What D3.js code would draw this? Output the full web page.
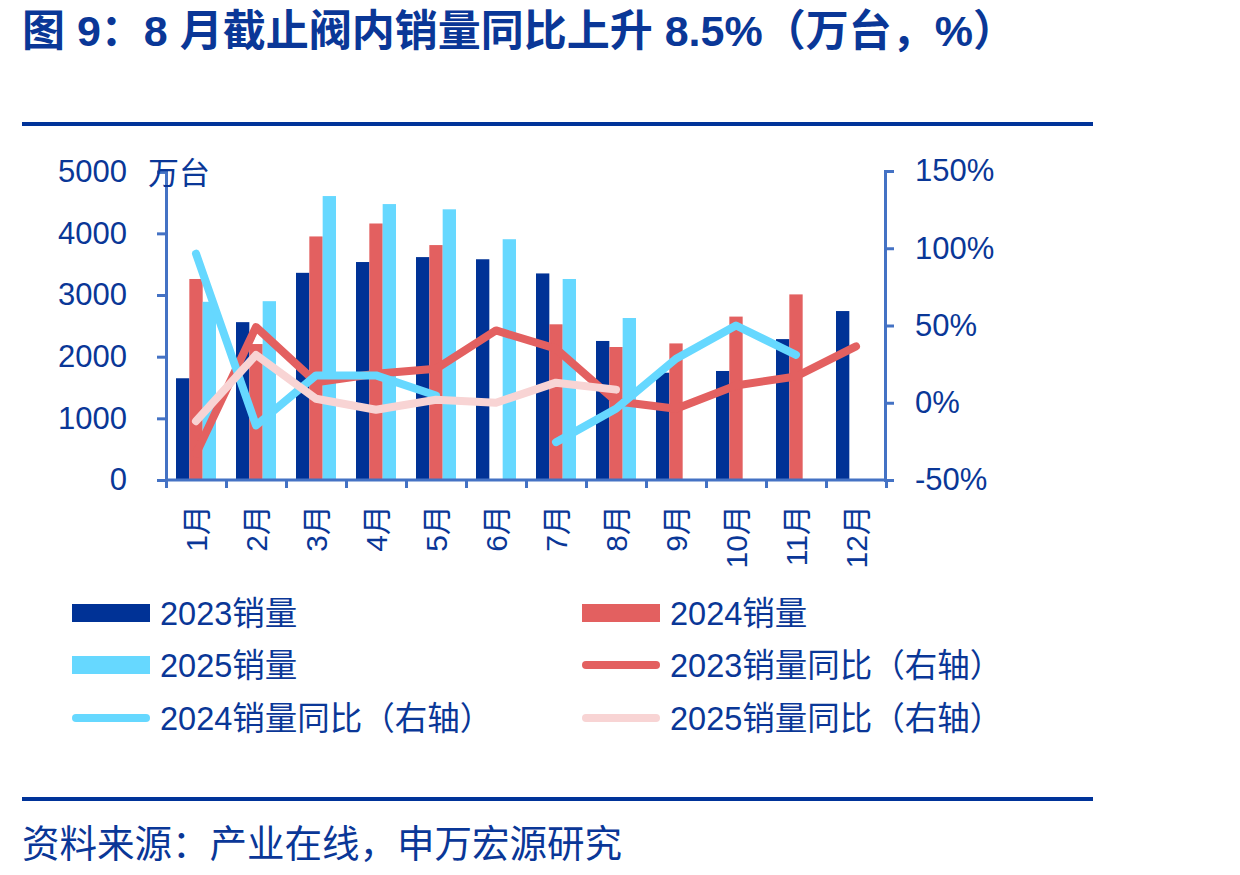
<!DOCTYPE html>
<html>
<head>
<meta charset="utf-8">
<script src="https://cdn.jsdelivr.net/npm/d3@7"></script>
<style>
  body { margin: 0; background: #fff; }
  text { font-family: "Liberation Sans", "Noto Sans CJK SC", sans-serif; fill: #0a3797; }
</style>
</head>
<body>
<div id="vis"></div>
<script>
// data
var months = ["1月", "2月", "3月", "4月", "5月", "6月", "7月", "8月", "9月", "10月", "11月", "12月"];
var sales2023 = [1650, 2560, 3360, 3535, 3615, 3580, 3350, 2255, 1740, 1768, 2285, 2740];
var sales2024 = [3260, 2205, 3950, 4160, 3810, null, 2525, 2157, 2215, 2650, 3010, null];
var sales2025 = [2890, 2900, 4605, 4475, 4390, 3905, 3260, 2627, null, null, null, null];
var yoy2023 = [-33, 49, 13.3, 18.8, 22, 46.8, 35, 1, -3.9, 11.2, 17, 36.5];
var yoy2024 = [96.5, -14.7, 17.7, 17.7, 4.7, null, -25.5, -3.9, 28.5, 50, 31, null];
var yoy2025 = [-11.9, 31, 2.6, -4.5, 1.9, 0, 13, 8.5, null, null, null, null];
var leftTicks = [0, 1000, 2000, 3000, 4000, 5000];
var rightTicks = [-50, 0, 50, 100, 150];

const WIDTH = 1240;
const HEIGHT = 875;
const AXIS_COLOR = "#4472c4";
const TEXT_COLOR = "#0a3797";
const BAR_COLORS = ["#003296", "#e36060", "#66d8ff"];
const LINE_COLORS = ["#e36060", "#66d8ff", "#f8d4d4"];

var svg = d3.select("#vis")
    .append("svg")
    .attr("width", WIDTH)
    .attr("height", HEIGHT);

// title and rules
svg.append("text")
    .attr("x", 22)
    .attr("y", 46)
    .attr("font-size", "43px")
    .attr("font-weight", "bold")
    .text("图 9：8 月截止阀内销量同比上升 8.5%（万台，%）");

svg.append("rect").attr("x", 22).attr("y", 122).attr("width", 1071).attr("height", 4).attr("fill", "#003399");
svg.append("rect").attr("x", 22).attr("y", 797).attr("width", 1071).attr("height", 4).attr("fill", "#003399");

svg.append("text")
    .attr("x", 22)
    .attr("y", 857)
    .attr("font-size", "37.5px")
    .text("资料来源：产业在线，申万宏源研究");

// scales
var x = d3.scaleBand().domain(months).range([166, 886]).padding(0);
var xSub = d3.scaleBand().domain([0, 1, 2]).range([10, 50]).padding(0);
var yLeft = d3.scaleLinear().domain([0, 5000]).range([480, 171.7]);
var yRight = d3.scaleLinear().domain([-50, 150]).range([480, 171]);
var xEdge = d3.scaleLinear().domain([0, 12]).range([166, 886]);

// bars, nulls keep their slot
var barSeries = [sales2023, sales2024, sales2025];
barSeries.forEach(function (series, s) {
    var rows = series.map(function (v, i) { return { m: months[i], v: v }; })
        .filter(function (d) { return d.v != null; });
    svg.append("g")
        .selectAll("rect")
        .data(rows)
        .enter()
        .append("rect")
        .attr("x", function (d) { return x(d.m) + xSub(s); })
        .attr("y", function (d) { return yLeft(d.v); })
        .attr("width", xSub.bandwidth())
        .attr("height", function (d) { return yLeft(0) - yLeft(d.v); })
        .attr("fill", BAR_COLORS[s]);
});

// axes
var leftAxis = svg.append("g")
    .attr("transform", "translate(166,0)")
    .call(d3.axisLeft(yLeft).tickValues(leftTicks).tickSize(9).tickPadding(30).tickFormat(d3.format("d")));
var rightAxis = svg.append("g")
    .attr("transform", "translate(885,0)")
    .call(d3.axisRight(yRight).tickValues(rightTicks).tickSize(9).tickPadding(21).tickFormat(function (d) { return d + "%"; }));
var bottomAxis = svg.append("g")
    .attr("transform", "translate(0,480)")
    .call(d3.axisBottom(xEdge).ticks(12).tickSize(8).tickFormat(""));

[leftAxis, rightAxis, bottomAxis].forEach(function (a) {
    a.selectAll("path").attr("stroke", AXIS_COLOR).attr("stroke-width", 3);
    a.selectAll("line").attr("stroke", AXIS_COLOR).attr("stroke-width", 3);
    a.selectAll("text").attr("fill", TEXT_COLOR).attr("font-size", "31px")
        .attr("font-family", "Liberation Sans, sans-serif");
});
bottomAxis.select("path").attr("d", "M166,0H886");

svg.append("text")
    .attr("x", 148)
    .attr("y", 184)
    .attr("font-size", "31px")
    .text("万台");

// month labels, rotated
svg.append("g")
    .selectAll("text")
    .data(months)
    .enter()
    .append("text")
    .attr("transform", function (d) { return "translate(" + (x(d) + x.bandwidth() / 2) + ",505) rotate(-90)"; })
    .attr("text-anchor", "end")
    .attr("dy", "0.36em")
    .attr("font-size", "30px")
    .text(function (d) { return d; });

// yoy lines
var line = d3.line()
    .defined(function (d) { return d != null; })
    .x(function (d, i) { return x(months[i]) + x.bandwidth() / 2; })
    .y(function (d) { return yRight(d); });

[yoy2023, yoy2024, yoy2025].forEach(function (series, s) {
    svg.append("path")
        .datum(series)
        .attr("d", line)
        .attr("fill", "none")
        .attr("stroke", LINE_COLORS[s])
        .attr("stroke-width", 8)
        .attr("stroke-linecap", "round")
        .attr("stroke-linejoin", "round");
});

// legend
var legendItems = [
    { label: "2023销量", type: "bar", color: BAR_COLORS[0], x: 72, y: 613 },
    { label: "2024销量", type: "bar", color: BAR_COLORS[1], x: 582, y: 613 },
    { label: "2025销量", type: "bar", color: BAR_COLORS[2], x: 72, y: 665 },
    { label: "2023销量同比（右轴）", type: "line", color: LINE_COLORS[0], x: 582, y: 665 },
    { label: "2024销量同比（右轴）", type: "line", color: LINE_COLORS[1], x: 72, y: 718 },
    { label: "2025销量同比（右轴）", type: "line", color: LINE_COLORS[2], x: 582, y: 718 }
];
var legend = svg.append("g")
    .selectAll("g")
    .data(legendItems)
    .enter()
    .append("g");
legend.filter(function (d) { return d.type == "bar"; })
    .append("rect")
    .attr("x", function (d) { return d.x; })
    .attr("y", function (d) { return d.y - 9; })
    .attr("width", 78)
    .attr("height", 18)
    .attr("fill", function (d) { return d.color; });
legend.filter(function (d) { return d.type == "line"; })
    .append("line")
    .attr("x1", function (d) { return d.x + 4; })
    .attr("x2", function (d) { return d.x + 74; })
    .attr("y1", function (d) { return d.y; })
    .attr("y2", function (d) { return d.y; })
    .attr("stroke", function (d) { return d.color; })
    .attr("stroke-width", 8)
    .attr("stroke-linecap", "round");
legend.append("text")
    .attr("x", function (d) { return d.x + 88; })
    .attr("y", function (d) { return d.y; })
    .attr("dy", "0.36em")
    .attr("font-size", "32.5px")
    .text(function (d) { return d.label; });
</script>
</body>
</html>
